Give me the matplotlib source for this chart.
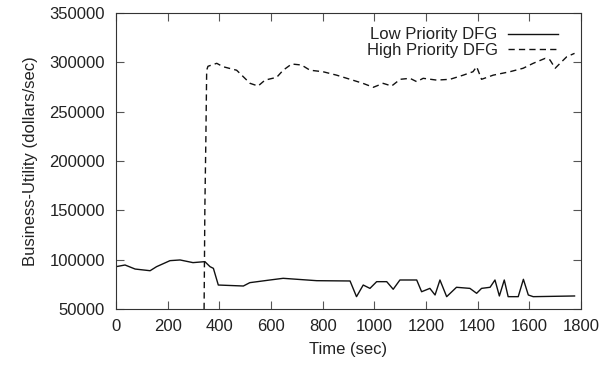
import matplotlib
matplotlib.use('Agg')
import matplotlib.pyplot as plt

plt.rcParams.update({
    'font.family': 'Liberation Sans',
    'font.size': 12,
    'text.color': '#222222',
    'axes.labelcolor': '#222222',
    'xtick.labelcolor': '#222222',
    'ytick.labelcolor': '#222222',
})

# Low priority DFG (time in sec, utility in dollars/sec)
low_t = [0, 35, 74, 132, 157, 209, 248, 298, 344, 364, 377, 396, 493, 518, 596,
         647, 777, 906, 931, 957, 983, 1009, 1048, 1073, 1099, 1164, 1183, 1215,
         1235, 1254, 1280, 1318, 1370, 1396, 1415, 1448, 1467, 1484, 1503, 1518,
         1557, 1577, 1596, 1615, 1775]
low_u = [92900, 94600, 90500, 88800, 92900, 99000, 99700, 97000, 98000, 92900,
         91200, 74300, 73300, 76700, 79400, 81100, 78700, 78400, 62500, 74300,
         70900, 77700, 77700, 70000, 79400, 79400, 67500, 70900, 64200, 79400,
         62500, 72000, 70900, 65900, 70900, 72000, 79400, 63200, 79400, 62500,
         62500, 80100, 64200, 62500, 63200]

# High priority DFG
high_t = [341, 344, 348, 351, 356, 390, 414, 467, 519, 550, 577, 622, 647, 680,
          718, 751, 801, 854, 906, 956, 996, 1034, 1067, 1100, 1138, 1164, 1189,
          1241, 1293, 1344, 1382, 1396, 1415, 1460, 1525, 1576, 1615, 1661, 1680,
          1700, 1719, 1745, 1775]
high_u = [50000, 153000, 225000, 292000, 296000, 299000, 295600, 292000, 278700,
          276000, 282000, 284800, 292000, 298300, 297300, 292000, 290500, 287000,
          282800, 278700, 274700, 278700, 276000, 282800, 283800, 280400, 283800,
          282000, 282800, 287000, 290500, 295600, 282800, 287000, 290500, 294000,
          299000, 304000, 302400, 294000, 299000, 305700, 309100]

x_ticks = [0, 200, 400, 600, 800, 1000, 1200, 1400, 1600, 1800]
y_ticks = [50000, 100000, 150000, 200000, 250000, 300000, 350000]

fig = plt.figure(figsize=(6.0, 3.66), dpi=100)
ax = fig.add_axes([116 / 600, 1 - 309 / 366, 465 / 600, 296 / 366])

ax.plot(low_t, low_u, color='#111111', lw=1.0, label='Low Priority DFG')
ax.plot(high_t, high_u, color='#111111', lw=1.0, linestyle=(0, (4.5, 3)),
        label='High Priority DFG')

ax.set_xlim(0, 1800)
ax.set_ylim(50000, 350000)
ax.set_xticks(x_ticks)
ax.set_yticks(y_ticks)
ax.tick_params(direction='in', top=True, right=True, length=6, color='#555555')
ax.tick_params(axis='y', pad=8)
ax.tick_params(axis='x', pad=7)
for s in ax.spines.values():
    s.set_color('#333333')

ax.set_xlabel('Time (sec)', labelpad=6)
ax.set_ylabel('Business-Utility (dollars/sec)', labelpad=8)

ax.legend(loc='upper right', frameon=False, markerfirst=False, handlelength=3.0,
          borderaxespad=1.0, labelspacing=0.05, handletextpad=0.6,
          bbox_to_anchor=(1.0, 1.03))

fig.savefig('out.png', dpi=100)
